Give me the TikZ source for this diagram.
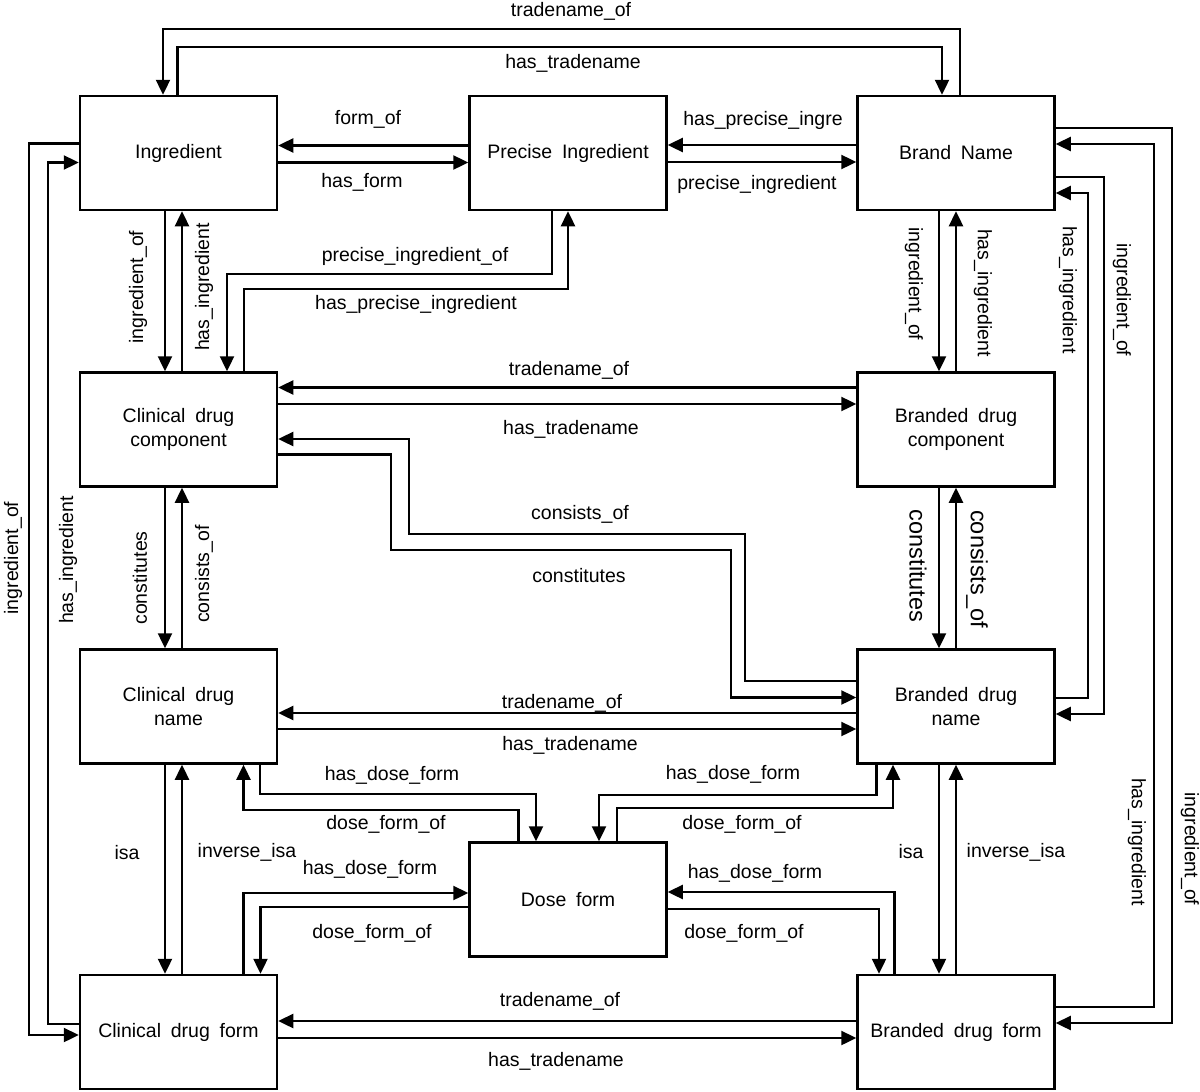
\documentclass[tikz,border=0pt]{standalone}
\usepackage{fontspec}
\setmainfont{Liberation Sans}[WordSpace=1.8]
\usetikzlibrary{arrows.meta,calc}
\begin{document}
\begin{tikzpicture}[x=1pt,y=-1pt,
  box/.style={draw,line width=2.5pt,minimum width=197pt,minimum height=114pt,align=center,inner sep=0pt,font=\fontsize{19.5}{24}\selectfont},
  lbl/.style={inner sep=0pt,font=\fontsize{19.5}{24}\selectfont},
  biglbl/.style={inner sep=0pt,font=\fontsize{23.5}{28}\selectfont},
  arr/.style={line width=2.4pt,-{Triangle[length=15pt,width=14pt]}},
  ln/.style={line width=2.4pt}]
\useasboundingbox (0,0) rectangle (1200,1092);

% boxes
\node[box] (ing)   at (178.5,153)   {Ingredient};
\node[box] (pre)   at (568,153)     {Precise Ingredient};
\node[box] (brand) at (956,153)     {Brand Name};
\node[box] (cdc)   at (178.5,429.5) {Clinical drug\\component};
\node[box] (bdc)   at (956,429.5)   {Branded drug\\component};
\node[box] (cdn)   at (178.5,706.5) {Clinical drug\\name};
\node[box] (bdn)   at (956,706.5)   {Branded drug\\name};
\node[box] (dose)  at (568,899.5)   {Dose form};
\node[box] (cdf)   at (178.5,1032)  {Clinical drug form};
\node[box] (bdf)   at (956,1032)    {Branded drug form};

% top loop
\draw[arr] ($(brand.north)+(4,0)$) -- ++(0,-66) -| ($(ing.north)+(-15.5,0)$);
\draw[arr] ($(ing.north)+(-1,0)$) -- ++(0,-48) -| ($(brand.north)+(-14,0)$);
% ing - pre
\draw[arr] ($(pre.west)+(0,-7.5)$) -- ($(ing.east)+(0,-7.5)$);
\draw[arr] ($(ing.east)+(0,9.5)$) -- ($(pre.west)+(0,9.5)$);
% pre - brand
\draw[arr] ($(brand.west)+(0,-8)$) -- ($(pre.east)+(0,-8)$);
\draw[arr] ($(pre.east)+(0,9)$) -- ($(brand.west)+(0,9)$);
% right side loops
\draw[arr] ($(brand.east)+(0,-25)$) -- ++(116,0) |- ($(bdf.east)+(0,-9)$);
\draw[arr] ($(bdf.east)+(0,-25)$) -- ++(98,0) |- ($(brand.east)+(0,-9)$);
\draw[arr] ($(brand.east)+(0,24)$) -- ++(48,0) |- ($(bdn.east)+(0,7.5)$);
\draw[arr] ($(bdn.east)+(0,-8.5)$) -- ++(32,0) |- ($(brand.east)+(0,40)$);
% brand - bdc
\draw[arr] ($(brand.south)+(-17,0)$) -- ($(bdc.north)+(-17,0)$);
\draw[arr] (bdc.north) -- (brand.south);
% bdc - bdn
\draw[arr] ($(bdc.south)+(-17,0)$) -- ($(bdn.north)+(-17,0)$);
\draw[arr] (bdn.north) -- (bdc.south);
% bdn - bdf
\draw[arr] ($(bdn.south)+(-17,0)$) -- ($(bdf.north)+(-17,0)$);
\draw[arr] (bdf.north) -- (bdn.south);
% ing - cdc
\draw[arr] ($(ing.south)+(-13.5,0)$) -- ($(cdc.north)+(-13.5,0)$);
\draw[arr] ($(cdc.north)+(3.5,0)$) -- ($(ing.south)+(3.5,0)$);
% pre - cdc
\draw[arr] ($(pre.south)+(-16,0)$) -- ++(0,63) -| ($(cdc.north)+(48.5,0)$);
\draw[arr] ($(cdc.north)+(65.5,0)$) -- ++(0,-82) -| (pre.south);
% cdc - bdc
\draw[arr] ($(bdc.west)+(0,-42)$) -- ($(cdc.east)+(0,-42)$);
\draw[arr] ($(cdc.east)+(0,-25.5)$) -- ($(bdc.west)+(0,-25.5)$);
% cdc - bdn
\draw[arr] ($(bdn.west)+(0,-25.5)$) -- ++(-111,0) -- ++(0,-147) -- ++(-336,0) |- ($(cdc.east)+(0,9.5)$);
\draw[arr] ($(cdc.east)+(0,25)$) -- ++(112.5,0) -- ++(0,95.5) -- ++(340,0) |- ($(bdn.west)+(0,-9)$);
% cdc - cdn
\draw[arr] ($(cdc.south)+(-13.5,0)$) -- ($(cdn.north)+(-13.5,0)$);
\draw[arr] ($(cdn.north)+(3.5,0)$) -- ($(cdc.south)+(3.5,0)$);
% cdn - bdn
\draw[arr] ($(bdn.west)+(0,6.5)$) -- ($(cdn.east)+(0,6.5)$);
\draw[arr] ($(cdn.east)+(0,22.5)$) -- ($(bdn.west)+(0,22.5)$);
% cdn - cdf
\draw[arr] ($(cdn.south)+(-13.5,0)$) -- ($(cdf.north)+(-13.5,0)$);
\draw[arr] ($(cdf.north)+(3.5,0)$) -- ($(cdn.south)+(3.5,0)$);
% cdn - dose
\draw[arr] ($(cdn.south)+(81.5,0)$) -- ++(0,29.5) -| ($(dose.north)+(-32,0)$);
\draw[arr] ($(dose.north)+(-49.5,0)$) -- ++(0,-31) -| ($(cdn.south)+(65,0)$);
% bdn - dose
\draw[arr] ($(bdn.south)+(-79.5,0)$) -- ++(0,30) -| ($(dose.north)+(31,0)$);
\draw[arr] ($(dose.north)+(49,0)$) -- ++(0,-33) -| ($(bdn.south)+(-63,0)$);
% cdf - dose
\draw[arr] ($(cdf.north)+(65,0)$) |- ($(dose.west)+(0,-6.5)$);
\draw[arr] ($(dose.west)+(0,7.5)$) -| ($(cdf.north)+(82,0)$);
% bdf - dose
\draw[arr] ($(bdf.north)+(-61.5,0)$) |- ($(dose.east)+(0,-7.5)$);
\draw[arr] ($(dose.east)+(0,9.5)$) -| ($(bdf.north)+(-77,0)$);
% cdf - bdf
\draw[arr] ($(bdf.west)+(0,-11)$) -- ($(cdf.east)+(0,-11)$);
\draw[arr] ($(cdf.east)+(0,6)$) -- ($(bdf.west)+(0,6)$);
% left loops
\draw[arr] ($(ing.west)+(0,-9.5)$) -- ++(-49.5,0) |- ($(cdf.west)+(0,3)$);
\draw[arr] ($(cdf.west)+(0,-8)$) -- ++(-31,0) |- ($(ing.west)+(0,9.5)$);

% labels
\node[lbl] (l1) at (571,11) {tradename\_of};
\node[lbl] (l2) at (573,63) {has\_tradename};
\node[lbl] (l3) at (368,119) {form\_of};
\node[lbl] (l4) at (362,182) {has\_form};
\node[lbl] (l5) at (763,120) {has\_precise\_ingre};
\node[lbl] (l6) at (757,184) {precise\_ingredient};
\node[lbl] (l7) at (415,256) {precise\_ingredient\_of};
\node[lbl] (l8) at (416,304) {has\_precise\_ingredient};
\node[lbl,rotate=90] (l9) at (138,287) {ingredient\_of};
\node[lbl,rotate=90] (l10) at (204,287) {has\_ingredient};
\node[lbl,rotate=-90] (l11) at (914,284) {ingredient\_of};
\node[lbl,rotate=-90] (l12) at (983,293) {has\_ingredient};
\node[lbl,rotate=-90] (l13) at (1068,290) {has\_ingredient};
\node[lbl,rotate=-90] (l14) at (1122,300) {ingredient\_of};
\node[lbl] (l15) at (569,370) {tradename\_of};
\node[lbl] (l16) at (571,429) {has\_tradename};
\node[lbl] (l17) at (580,514) {consists\_of};
\node[lbl] (l18) at (579,576) {constitutes};
\node[lbl,rotate=90] (l19) at (140,578) {constitutes};
\node[lbl,rotate=90] (l20) at (204,574) {consists\_of};
\node[biglbl,rotate=-90] (l21) at (918,566) {constitutes};
\node[biglbl,rotate=-90] (l22) at (977,569) {consists\_of};
\node[lbl,rotate=90] (l23) at (13,558) {ingredient\_of};
\node[lbl,rotate=90] (l24) at (68,560) {has\_ingredient};
\node[lbl] (l25) at (562,703) {tradename\_of};
\node[lbl] (l26) at (570,745) {has\_tradename};
\node[lbl] (l27) at (392,775) {has\_dose\_form};
\node[lbl] (l28) at (386,824) {dose\_form\_of};
\node[lbl] (l29) at (733,774) {has\_dose\_form};
\node[lbl] (l30) at (742,824) {dose\_form\_of};
\node[lbl] (l31) at (127,853) {isa};
\node[lbl] (l32) at (247,852) {inverse\_isa};
\node[lbl] (l33) at (911,852) {isa};
\node[lbl] (l34) at (1016,852) {inverse\_isa};
\node[lbl] (l35) at (370,869) {has\_dose\_form};
\node[lbl] (l36) at (372,933) {dose\_form\_of};
\node[lbl] (l37) at (755,873) {has\_dose\_form};
\node[lbl] (l38) at (744,933) {dose\_form\_of};
\node[lbl,rotate=-90] (l39) at (1137,842) {has\_ingredient};
\node[lbl,rotate=-90] (l40) at (1190,849) {ingredient\_of};
\node[lbl] (l41) at (560,1001) {tradename\_of};
\node[lbl] (l42) at (556,1061) {has\_tradename};
\end{tikzpicture}
\end{document}
